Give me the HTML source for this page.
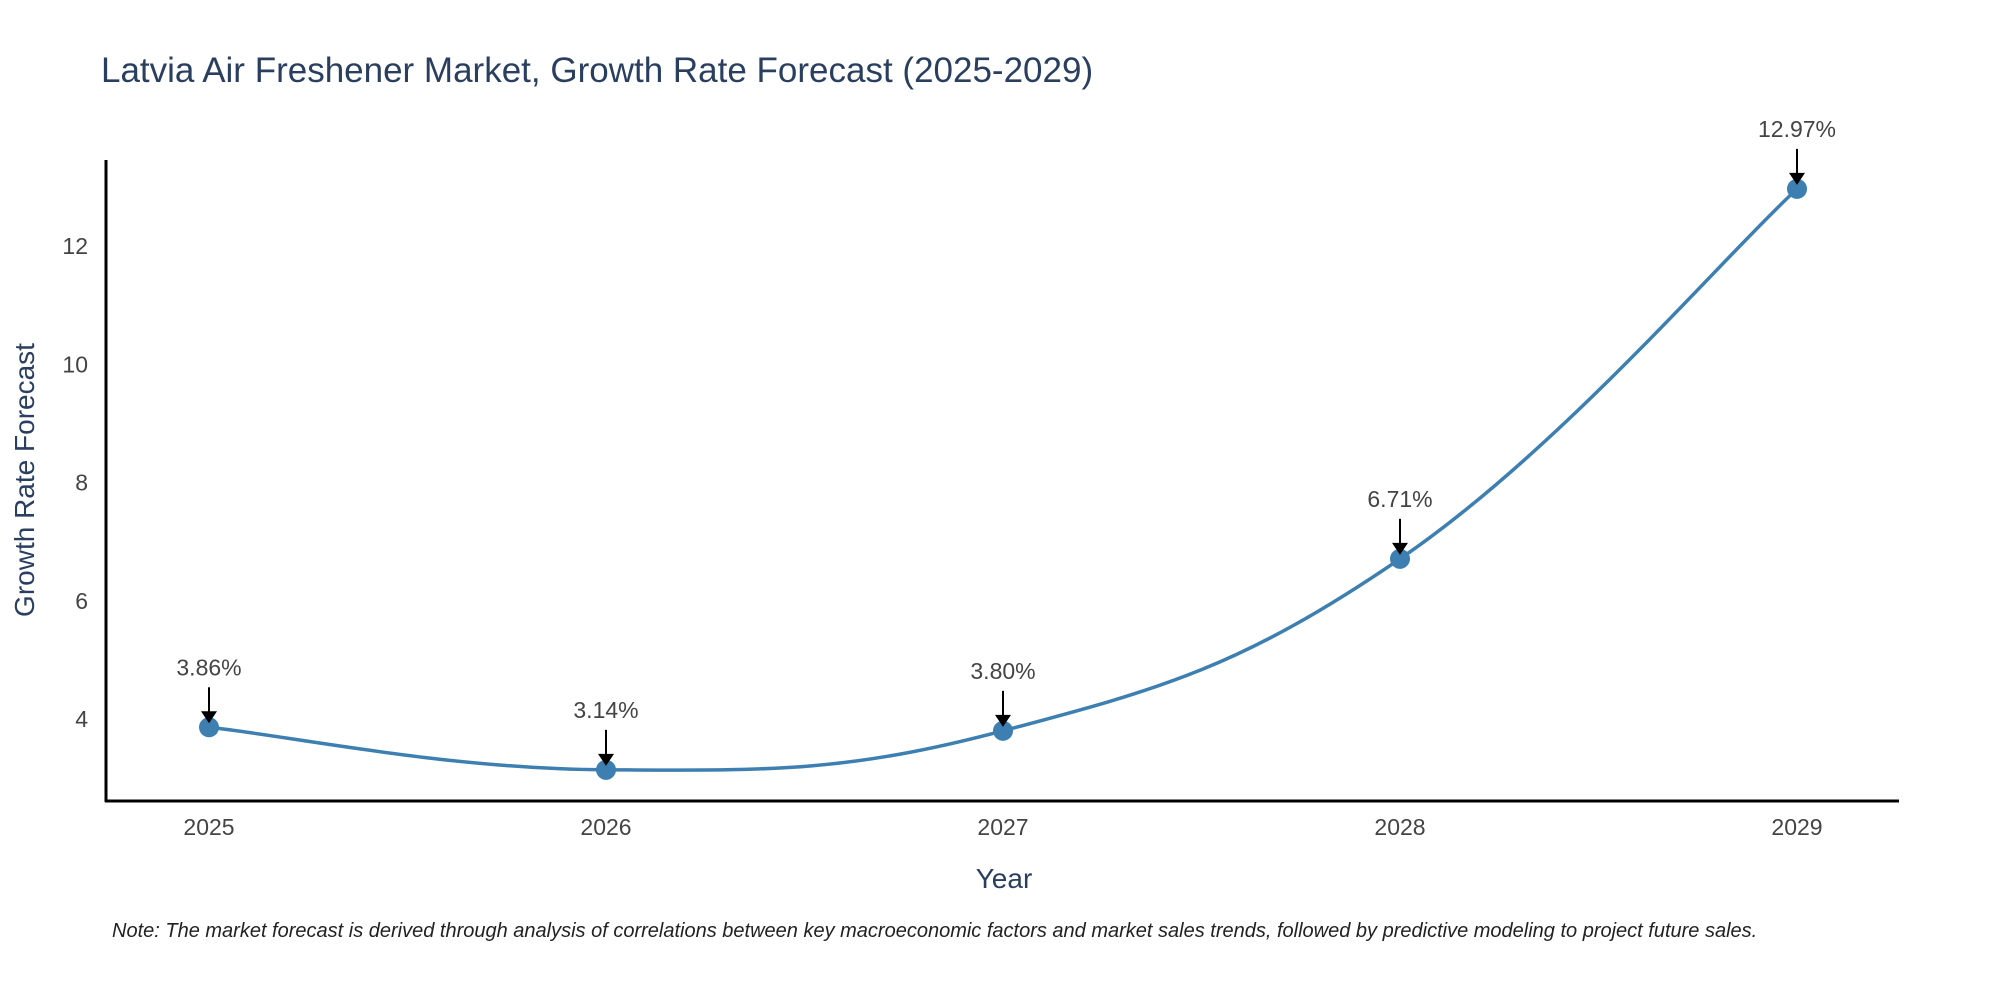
<!DOCTYPE html>
<html><head><meta charset="utf-8"><style>
body{margin:0;background:#fff;width:2000px;height:1000px;overflow:hidden}
text{font-family:"Liberation Sans",sans-serif}
</style></head><body>
<svg id="chart" width="2000" height="1000" xmlns="http://www.w3.org/2000/svg">
<text x="101" y="82" font-size="35" fill="#2a3f5f">Latvia Air Freshener Market, Growth Rate Forecast (2025-2029)</text>
<g id="yticks"></g><g id="xticks"></g>
<line x1="106" y1="160" x2="106" y2="802" stroke="#000" stroke-width="3"/>
<line x1="105" y1="801" x2="1899" y2="801" stroke="#000" stroke-width="3"/>
<text transform="translate(34,480) rotate(-90)" text-anchor="middle" font-size="28" fill="#2a3f5f">Growth Rate Forecast</text>
<text x="1004" y="888" text-anchor="middle" font-size="28" fill="#2a3f5f">Year</text>
<path id="line" fill="none" stroke="#3d7fb0" stroke-width="3.5"/>
<g id="marks"></g>
<text x="112" y="937" font-size="20" font-style="italic" fill="#222">Note: The market forecast is derived through analysis of correlations between key macroeconomic factors and market sales trends, followed by predictive modeling to project future sales.</text>
</svg>
<script>
const years = [2025, 2026, 2027, 2028, 2029];
const values = [3.86, 3.14, 3.80, 6.71, 12.97];
const yTicks = [4, 6, 8, 10, 12];
const NS = "http://www.w3.org/2000/svg";
function xs(i){ return 209 + i * 397; }
function ys(v){ return 719 - (v - 4) * 59.1; }
function mk(tag, attrs, parent){ const e = document.createElementNS(NS, tag); for (const k in attrs) e.setAttribute(k, attrs[k]); parent.appendChild(e); return e; }
const yg = document.getElementById('yticks');
yTicks.forEach(t => {
  const e = mk('text', {x: 88, y: ys(t) + 8, 'text-anchor': 'end', 'font-size': 23, fill: '#444'}, yg);
  
  
  e.textContent = t;
});
const xg = document.getElementById('xticks');
years.forEach((y, i) => {
  const e = mk('text', {x: xs(i), y: 835, 'text-anchor': 'middle', 'font-size': 23, fill: '#444'}, xg);
  
  
  e.textContent = y;
});
const pts = values.map((v, i) => [xs(i), ys(v)]);
let d = `M${pts[0][0]},${pts[0][1]}`;
for (let i = 0; i < pts.length - 1; i++) {
  const p0 = pts[Math.max(0, i - 1)], p1 = pts[i], p2 = pts[i + 1], p3 = pts[Math.min(pts.length - 1, i + 2)];
  const t = 0.2;
  const c1 = [p1[0] + (p2[0] - p0[0]) * t, p1[1] + (p2[1] - p0[1]) * t];
  const c2 = [p2[0] - (p3[0] - p1[0]) * t, p2[1] - (p3[1] - p1[1]) * t];
  d += ` C${c1[0]},${c1[1]} ${c2[0]},${c2[1]} ${p2[0]},${p2[1]}`;
}
document.getElementById('line').setAttribute('d', d);
const mg = document.getElementById('marks');
pts.forEach((p, i) => {
  const c = mk('circle', {cx: p[0], cy: p[1], r: 10, fill: '#3d7fb0'}, mg);
  
  
  const l = mk('line', {x1: p[0], y1: p[1] - 40, x2: p[0], y2: p[1] - 14, stroke: '#000', 'stroke-width': 2}, mg);
  
  
  const h = mk('polygon', {points: `${p[0]-8},${p[1]-16} ${p[0]+8},${p[1]-16} ${p[0]},${p[1]-4}`, fill: '#000'}, mg);
  
  
  const t = mk('text', {x: p[0], y: p[1] - 52, 'text-anchor': 'middle', 'font-size': 23, fill: '#444'}, mg);
  
  
  t.textContent = values[i].toFixed(2) + '%';
});
</script>
</body></html>
